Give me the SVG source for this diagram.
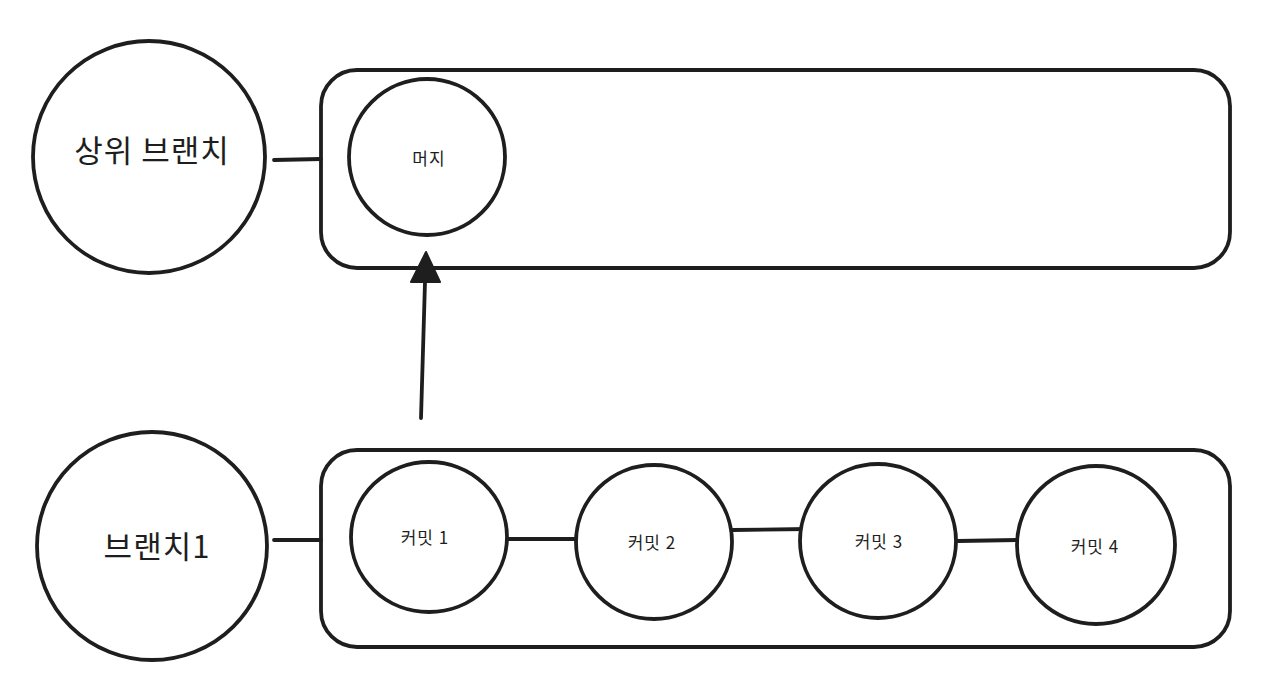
<svg xmlns="http://www.w3.org/2000/svg" width="1264" height="682" viewBox="0 0 1264 682">
<style>
.s{fill:none;stroke:#1e1e1e;stroke-width:3.8;stroke-linecap:round;stroke-linejoin:round}
.c{fill:#fff;stroke:#1e1e1e;stroke-width:3.8}
.t{font-family:"Noto Sans CJK KR","Noto Sans",sans-serif;fill:#1e1e1e;text-anchor:middle;dominant-baseline:central}
.big{font-size:31px;font-weight:normal;letter-spacing:1px}
.sm{font-size:17px;letter-spacing:1px}
</style>
<rect width="1264" height="682" fill="#fff"/>
<g id="connectors">
<line class="s" x1="274" y1="160" x2="321" y2="159"/>
<line class="s" x1="274" y1="540" x2="321" y2="540"/>
<line class="s" x1="508" y1="539" x2="577" y2="539"/>
<line class="s" x1="733" y1="530" x2="808" y2="529"/>
<line class="s" x1="958" y1="541" x2="1017" y2="540"/>
<line class="s" x1="421" y1="418" x2="425" y2="282"/>
<path d="M411,282 L426,252 L440,282 Z" fill="#1e1e1e" stroke="#1e1e1e" stroke-width="2" stroke-linejoin="round"/>
</g>
<g id="upper-group">
<rect class="s" x="321" y="70" width="909" height="198" rx="36"/>
</g>
<g id="branch1-group">
<rect class="s" x="321" y="450" width="909" height="197" rx="36"/>
</g>
<g id="upper-branch">
<ellipse class="c" cx="149" cy="157" rx="116" ry="116"/>
<text class="t big" x="152" y="148">상위 브랜치</text>
</g>
<g id="branch1">
<ellipse class="c" cx="152" cy="546" rx="115" ry="114"/>
<text class="t big" x="157" y="544">브랜치1</text>
</g>
<g id="merge">
<ellipse class="c" cx="427" cy="157" rx="78" ry="78"/>
<text class="t sm" x="429" y="157">머지</text>
</g>
<g id="commit1">
<ellipse class="c" cx="429" cy="537" rx="78" ry="75"/>
<text class="t sm" x="425" y="536">커밋 1</text>
</g>
<g id="commit2">
<ellipse class="c" cx="654" cy="542" rx="78" ry="77"/>
<text class="t sm" x="652" y="541">커밋 2</text>
</g>
<g id="commit3">
<ellipse class="c" cx="878" cy="541" rx="78" ry="77"/>
<text class="t sm" x="879" y="540">커밋 3</text>
</g>
<g id="commit4">
<ellipse class="c" cx="1096" cy="545" rx="79" ry="79"/>
<text class="t sm" x="1095" y="545">커밋 4</text>
</g>
</svg>
